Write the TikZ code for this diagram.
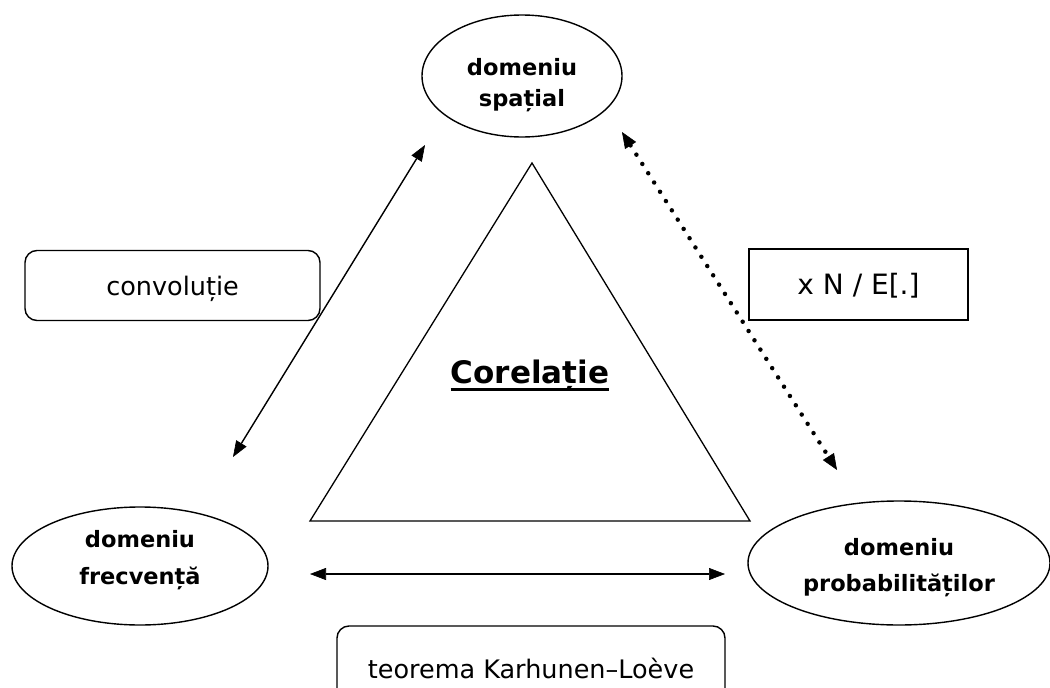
\documentclass[tikz,border=0pt]{standalone}
\usepackage{fontspec}
\setmainfont{DejaVu Sans}
\usetikzlibrary{shapes.geometric,arrows.meta}
\begin{document}
\begin{tikzpicture}[x=1pt,y=-1pt,
  domshape/.style={ellipse,draw,line width=1.4pt,inner sep=0pt},
  domtext/.style={align=center,inner sep=0pt,font=\bfseries\fontsize{22.5}{#1}\selectfont},
  lbox/.style={draw,line width=1.4pt,inner sep=0pt,text height=19pt,text depth=0pt,
    font=\fontsize{25.5}{30}\selectfont},
  link/.style={line width=1.4pt,{Triangle[length=16pt,width=12pt,line width=0.6pt]}-{Triangle[length=16pt,width=12pt,line width=0.6pt]}},
  dotlink/.style={line width=4.5pt,line cap=round,dash pattern=on 0pt off 11pt,
    {Triangle[length=16pt,width=13pt,line width=0.6pt]}-{Triangle[length=16pt,width=13pt,line width=0.6pt]}}
]
\useasboundingbox (0,0) rectangle (1050,688);

% the three domains
\node[domshape,minimum width=200pt,minimum height=122pt] (sp) at (522,76) {};
\node[domtext=31] (spt) at (522,85) {domeniu\\spațial};
\node[domshape,minimum width=256pt,minimum height=118pt] (fr) at (140,566) {};
\node[domtext=37] (frt) at (140,560) {domeniu\\frecvență};
\node[domshape,minimum width=302pt,minimum height=124pt] (pr) at (899,563) {};
\node[domtext=36] (prt) at (899,568) {domeniu\\probabilităților};

% central triangle
\coordinate (ta) at (532,163);
\coordinate (tl) at (310,521);
\coordinate (tr) at (750,521);
\draw[line width=1.3pt,line join=miter] (ta) -- (tl) -- (tr) -- cycle;
\node[inner sep=0pt,anchor=base,font=\bfseries\fontsize{31}{36}\selectfont] (cor) at (530,383) {Corelație};
\draw[line width=3pt] ([yshift=-6pt]cor.base west) -- ([yshift=-6pt]cor.base east);

% links between domains
\coordinate (c1) at (425,145);
\coordinate (c2) at (233,457);
\draw[link] (c1) -- (c2);
\coordinate (d1) at (622,132);
\coordinate (d2) at (837,470);
\draw[dotlink] (d1) -- (d2);
\coordinate (h1) at (310,574);
\coordinate (h2) at (725,574);
\draw[link] (h1) -- (h2);

% labels
\node[lbox,rounded corners=12pt,minimum width=295pt,minimum height=70pt] (conv) at (172.5,285.5) {convoluție};
\node[lbox,font=\fontsize{28}{32}\selectfont,text height=20.5pt,minimum width=219pt,minimum height=71pt] (norm) at (858.5,284.5) {x N / E[.]};
\node[lbox,rounded corners=12pt,minimum width=388pt,minimum height=85pt] (kl) at (531,668.5) {teorema Karhunen–Loève};
\end{tikzpicture}
\end{document}
